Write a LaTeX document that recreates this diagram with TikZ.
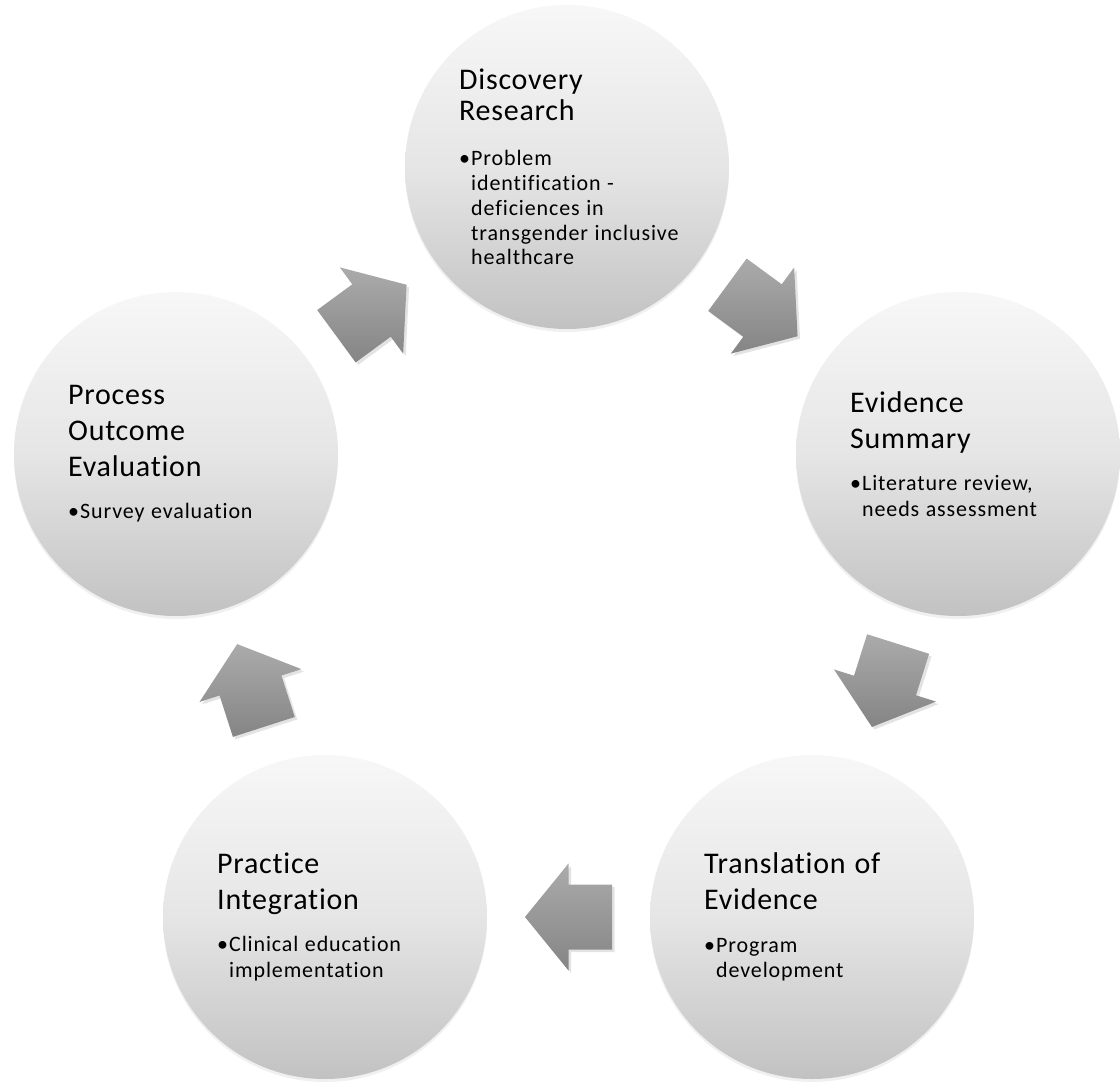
\documentclass[tikz,border=0pt]{standalone}
\usepackage{fontspec}
\setmainfont{Carlito}[Ligatures=NoCommon]
\newfontfamily\titlefont{Carlito}[LetterSpace=2.5, Ligatures=NoCommon]
\newfontfamily\bodyfont{Carlito}[LetterSpace=4, Ligatures=NoCommon]
\usetikzlibrary{calc,shadows}

% shaded stage circles, their texts and the block arrows of the cycle
\tikzset{
  stage/.style={circle, minimum size=324pt, inner sep=0pt,
    top color=black!3, bottom color=black!24, middle color=black!10,
    drop shadow={opacity=0.12, shadow xshift=0pt, shadow yshift=-3pt}},
  stagetext/.style={anchor=west, inner sep=0pt, text width=260pt, align=left},
  cyclearrow/.style={top color=black!33, bottom color=black!48,
    drop shadow={opacity=0.22, shadow xshift=2.5pt, shadow yshift=-2.5pt}},
}

% heading lines, then the bulleted detail
\newcommand\stagetitle[2]{{\titlefont\fontsize{30}{#1}\selectfont
  \spaceskip=9pt plus 2pt\relax #2\par}}
\newcommand\stagebody[3]{\vspace{#1}{\bodyfont\fontsize{22}{#2}\selectfont
  \spaceskip=6.5pt plus 2pt\relax #3\par}}
\newcommand\bul{\makebox[12pt][l]{•}}
\newcommand\ind{\hspace*{12pt}}

% block arrow half way between two stages, pointing from #1 to #2
\newcommand\flowarrow[2]{%
  \coordinate (m-#1-#2) at ($(#1.center)!0.5!(#2.center)$);
  \path[cyclearrow] let \p1=($(#2.center)-(#1.center)$), \n1={atan2(\y1,\x1)} in
    ($(m-#1-#2)+(\n1:43.5)$)
    -- ($(m-#1-#2)+({\n1+90}:53.5)$)
    -- ($(m-#1-#2)+({\n1+90}:32.5)$)
    -- ($(m-#1-#2)+({\n1+180}:43.5)+({\n1+90}:32.5)$)
    -- ($(m-#1-#2)+({\n1+180}:43.5)+({\n1-90}:32.5)$)
    -- ($(m-#1-#2)+({\n1-90}:32.5)$)
    -- ($(m-#1-#2)+({\n1-90}:53.5)$)
    -- cycle;
}

\begin{document}
\begin{tikzpicture}[x=1pt, y=1pt]
\useasboundingbox (0,0) rectangle (1120,-1082);

\node[stage] (c1) at (567,-167) {};
\node[stage] (c2) at (958,-454) {};
\node[stage] (c3) at (812,-917) {};
\node[stage] (c4) at (325,-917) {};
\node[stage] (c5) at (176,-454) {};

\node[stagetext] (t1) at ($(c1.center)+(-108,0)$) {%
  \stagetitle{31.4}{Discovery\\Research}%
  \stagebody{20pt}{24.8}{\bul Problem\\\ind identification -\\\ind deficiences in\\\ind transgender inclusive\\\ind healthcare}};

\node[stagetext] (t2) at ($(c2.center)+(-108,0)$) {%
  \stagetitle{35.7}{Evidence\\Summary}%
  \stagebody{17pt}{25.5}{\bul Literature review,\\\ind needs assessment}};

\node[stagetext] (t3) at ($(c3.center)+(-108,0)$) {%
  \stagetitle{35.7}{Translation of\\Evidence}%
  \stagebody{17pt}{25.5}{\bul Program\\\ind development}};

\node[stagetext] (t4) at ($(c4.center)+(-108,0)$) {%
  \stagetitle{35.7}{Practice\\Integration}%
  \stagebody{17pt}{25.5}{\bul Clinical education\\\ind implementation}};

\node[stagetext] (t5) at ($(c5.center)+(-108,0)$) {%
  \stagetitle{35.7}{Process\\Outcome\\Evaluation}%
  \stagebody{17pt}{25.5}{\bul Survey evaluation}};

\flowarrow{c1}{c2}
\flowarrow{c2}{c3}
\flowarrow{c3}{c4}
\flowarrow{c4}{c5}
\flowarrow{c5}{c1}
\end{tikzpicture}
\end{document}
